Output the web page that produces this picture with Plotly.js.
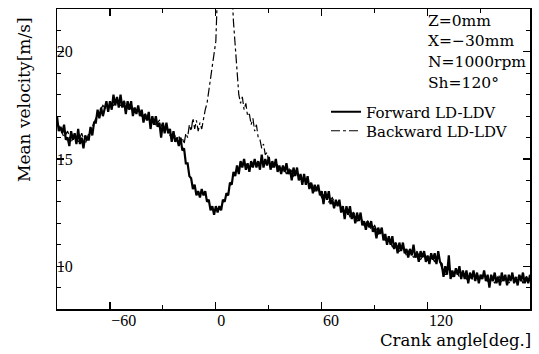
<!DOCTYPE html>
<html>
<head>
<meta charset="utf-8">
<script src="https://cdn.plot.ly/plotly-3.0.1.min.js"></script>
<style>html,body{margin:0;padding:0;background:#fff}#chart{width:539px;height:354px}</style>
</head>
<body>
<div id="chart"></div>
<script>
// Forward LD-LDV: crank angle -90..178 deg, step 1
var forwardStart = -90;
var forwardVelocity = [
17.0,16.3,16.5,16.2,16.6,15.9,16.0,15.6,16.3,15.9,
16.2,15.7,16.4,15.7,16.0,15.5,16.1,15.9,15.9,16.5,
16.1,16.7,16.7,17.3,16.9,17.4,17.0,17.4,17.7,17.2,
17.7,17.3,18.0,17.5,17.9,17.4,18.0,17.4,17.7,17.1,
17.7,17.3,17.7,17.0,17.4,17.1,17.5,17.0,17.3,16.7,
17.1,16.8,17.2,16.4,17.0,16.6,17.0,16.5,16.7,16.0,
16.7,16.2,16.7,16.2,16.4,15.8,16.3,15.8,16.0,15.6,
16.0,15.4,15.5,14.8,14.8,14.2,14.1,13.6,13.8,13.3,
13.5,13.2,13.6,13.3,13.5,13.0,13.1,12.6,12.8,12.4,
12.8,12.5,12.8,12.6,13.1,13.0,13.4,13.3,13.9,13.8,
14.4,14.2,14.7,14.3,14.9,14.6,15.0,14.5,14.8,14.4,
14.9,14.6,15.0,14.6,14.9,14.5,15.2,14.6,15.0,14.7,
15.1,14.5,14.9,14.6,15.0,14.4,14.7,14.3,14.7,14.4,
14.8,14.3,14.5,14.0,14.6,14.2,14.6,14.0,14.3,13.8,
14.3,13.8,14.2,13.6,13.9,13.4,13.8,13.5,13.8,13.3,
13.5,12.9,13.5,13.1,13.5,12.9,13.1,12.7,13.1,12.8,
13.1,12.5,12.8,12.2,12.8,12.4,12.8,12.2,12.5,12.0,
12.5,12.1,12.5,11.9,12.1,11.7,12.1,11.8,12.1,11.6,
11.8,11.3,11.8,11.5,11.8,11.2,11.5,11.0,11.4,11.0,
11.4,10.8,11.1,10.6,11.1,10.7,11.1,10.6,10.8,10.4,
10.8,10.5,11.0,10.4,10.6,10.2,10.7,10.4,10.7,10.2,
10.5,10.1,10.6,10.3,10.6,10.1,10.7,10.2,10.1,9.5,
10.0,9.6,10.5,9.4,9.8,9.5,9.9,9.6,10.0,9.4,
9.8,9.4,9.8,9.2,9.7,9.4,9.8,9.3,9.7,9.2,
9.6,9.4,9.8,9.3,9.6,9.0,9.6,9.3,9.7,9.2,
9.5,9.1,9.7,9.3,9.6,9.1,9.6,9.3,9.7,9.2,
9.5,9.1,9.6,9.3,9.7,9.2,9.5,9.2,9.6
];
var forwardAngle = forwardVelocity.map(function(v, i){ return forwardStart + i; });

// Backward LD-LDV
var backwardAngle = [
-90,-88,-86,-84,-82,-80,-78,-76,-74,-72,-70,-68,-66,-64,-62,-60,-58,-56,-54,-52,
-50,-48,-46,-44,-42,-40,-38,-36,-34,-32,-30,-28,-26,-24,-22,
-21,-20,-19,-18,-17,-16,-15,-14,-13,-12,-11,-10,-9,-8,-7,-6,-5,-4,-3,-2,-1,0,
1,3,5,7,9,10,11,12,13,14,15,16,17,18,19,20,21,22,23,24,25,26,27,28,29,30,
32,34,36,38,40,42,44,46,48,50,52,54,56,58,60,62,64,66,68,70,72,74,76,78,80,
82,84,86,88,90,92,94,96,98,100,102,104,106,108,110,112,114,116,118,120,122,124,126,128,130,
132,134,136,138,140,142,144,146,148,150,152,154,156,158,160,162,164,166,168,170,172,174,176,178
];
var backwardVelocity = [
16.7,16.4,16.0,16.3,15.8,16.1,15.8,16.2,15.7,16.2,16.5,16.9,17.2,17.5,17.3,17.6,17.5,17.8,17.5,17.7,
17.3,17.5,17.2,17.3,17.0,17.1,16.8,16.9,16.6,16.8,16.4,16.5,16.1,16.2,15.9,
16.1,15.8,16.0,15.7,16.2,16.0,16.6,16.3,16.9,16.4,16.8,16.3,16.7,16.4,16.9,17.3,17.6,18.2,18.7,19.2,19.8,20.5,
23.0,25.0,26.0,25.0,23.0,21.4,20.2,18.8,18.0,17.6,17.9,17.3,17.6,17.0,17.1,16.6,16.9,16.3,16.6,16.0,15.9,15.5,15.7,15.2,15.3,14.9,
14.6,14.9,14.5,14.7,14.3,14.6,14.2,14.4,14.0,14.1,13.7,13.9,13.5,13.6,13.2,13.4,13.0,13.2,12.8,12.9,12.5,12.7,12.3,12.5,12.1,
12.3,11.9,12.1,11.7,11.9,11.5,11.6,11.2,11.3,10.9,11.1,10.7,10.9,10.5,10.8,10.4,10.7,10.3,10.6,10.3,10.5,10.2,10.5,9.9,9.6,
9.9,9.5,9.8,9.5,9.7,9.4,9.6,9.3,9.6,9.4,9.6,9.3,9.5,9.2,9.6,9.3,9.5,9.2,9.5,9.3,9.6,9.2,9.5,9.3
];

var infoLines = ["Z=0mm", "X=\u221230mm", "N=1000rpm", "Sh=120\u00b0"];
var seriesNames = ["Forward LD-LDV", "Backward LD-LDV"];
var xTitle = "Crank angle[deg.]";
var yTitle = "Mean velocity[m/s]";

var TEXTFONT = "DejaVu Serif, Liberation Serif, serif";
var TICKFONT = "Liberation Serif, DejaVu Serif, serif";

var traces = [
  {x: forwardAngle, y: forwardVelocity, type: "scatter", mode: "lines", name: seriesNames[0],
   line: {color: "#000", width: 2.2}, legend: "legend"},
  {x: backwardAngle, y: backwardVelocity, type: "scatter", mode: "lines", name: seriesNames[1],
   line: {color: "#000", width: 1.2, dash: "dashdot"}, legend: "legend2"}
];

var axisCommon = {
  showgrid: false, zeroline: false, showline: true, linecolor: "#000", linewidth: 1.5,
  mirror: "ticks", ticks: "inside", ticklen: 7, tickwidth: 1.2, tickcolor: "#000",
  tickfont: {family: TICKFONT, size: 16, color: "#000"}
};

var W = 539, H = 354, ML = 57, MR = 9, MT = 9, MB = 45;
var PW = W - ML - MR, PH = H - MT - MB;
function px2x(p){ return (p - ML) / PW; }
function px2y(p){ return 1 - (p - MT) / PH; }

var legendCommon = {xanchor: "left", yanchor: "middle", bgcolor: "rgba(0,0,0,0)",
  font: {family: TEXTFONT, size: 15, color: "#000"}, borderwidth: 0};

var infoCenters = [21, 41, 62, 83];
var annotations = infoLines.map(function(t, i){
  return {xref: "paper", yref: "paper", x: px2x(426), y: px2y(infoCenters[i]),
    xanchor: "left", yanchor: "middle", text: t, showarrow: false,
    font: {family: TEXTFONT, size: 15.5, color: "#000"}};
});
annotations.push({xref: "paper", yref: "paper", x: px2x(533), y: px2y(340),
  xanchor: "right", yanchor: "middle", text: xTitle, showarrow: false,
  font: {family: TEXTFONT, size: 16.5, color: "#000"}});
annotations.push({xref: "paper", yref: "paper", x: px2x(24), y: px2y(100),
  xanchor: "center", yanchor: "middle", textangle: -90, text: yTitle, showarrow: false,
  font: {family: TEXTFONT, size: 17, color: "#000"}});

var layout = {
  width: W, height: H,
  margin: {l: ML, r: MR, t: MT, b: MB},
  paper_bgcolor: "#fff", plot_bgcolor: "#fff",
  font: {family: TEXTFONT, color: "#000"},
  showlegend: true,
  legend: Object.assign({}, legendCommon, {x: px2x(326), y: px2y(112)}),
  legend2: Object.assign({}, legendCommon, {x: px2x(326), y: px2y(131)}),
  xaxis: Object.assign({}, axisCommon, {
    range: [-90, 178], tick0: 0, dtick: 60, ticklabelposition: "outside right",
    ticklabelstandoff: -4,
    minor: {dtick: 30, ticks: "inside", ticklen: 4, tickcolor: "#000", tickwidth: 1}
  }),
  yaxis: Object.assign({}, axisCommon, {
    range: [8, 22], tick0: 0, dtick: 5, ticklabelposition: "inside",
    ticklabelstandoff: -7,
    minor: {dtick: 1, ticks: "inside", ticklen: 4, tickcolor: "#000", tickwidth: 1}
  }),
  annotations: annotations
};

Plotly.newPlot("chart", traces, layout, {displayModeBar: false, staticPlot: true});
</script>
</body>
</html>
